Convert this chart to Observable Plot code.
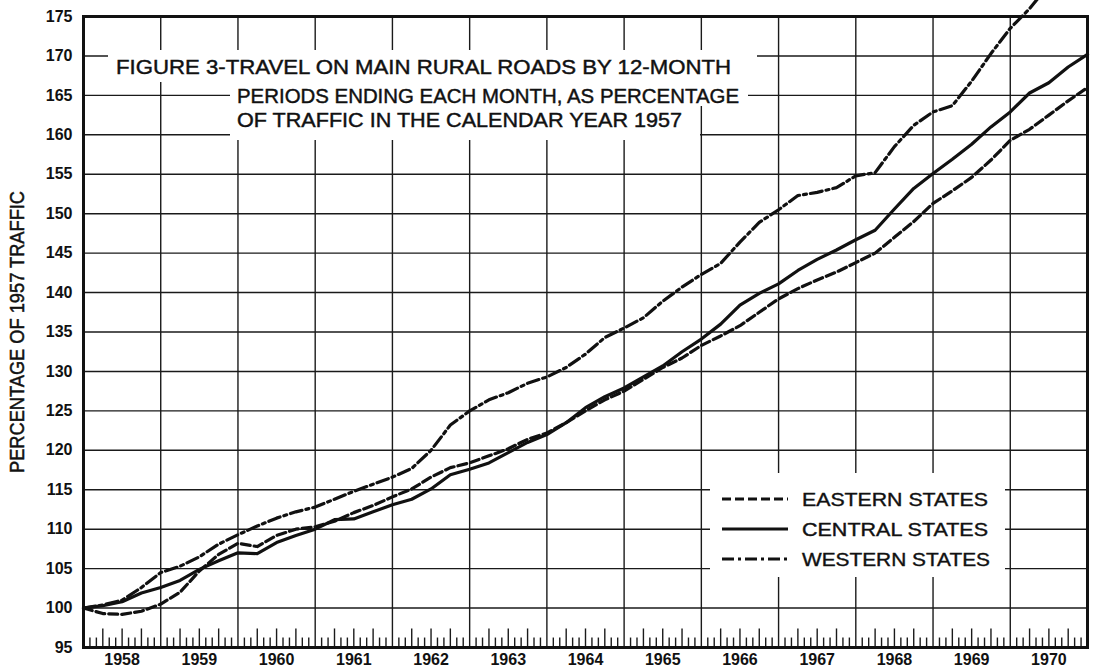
<!DOCTYPE html>
<html><head><meta charset="utf-8">
<script src="https://cdn.jsdelivr.net/npm/d3@7"></script>
<script src="https://cdn.jsdelivr.net/npm/@observablehq/plot@0.6"></script>
<style>
body{margin:0;background:#fff;}
#chart{position:relative;width:1096px;height:671px;overflow:hidden;}
</style></head><body><div id="chart"></div>
<script>
// 12-month periods ending each quarter (decimal year; 1958.00 = period ending Dec 1957)
const periods = d3.range(0, 53).map(i => 1958 + i / 4);
const eastern = [
  100.0, 99.3, 99.2, 99.6,
  100.5, 102.0, 104.7, 106.8,
  108.2, 107.8, 109.2, 110.0,
  110.3, 111.0, 112.1, 113.0,
  114.1, 115.1, 116.6, 117.8,
  118.4, 119.3, 120.2, 121.4,
  122.2, 123.5, 125.0, 126.4,
  127.5, 129.0, 130.5, 131.7,
  133.3, 134.5, 135.8, 137.5,
  139.2, 140.5, 141.6, 142.6,
  143.8, 145.0, 147.0, 149.0,
  151.3, 152.9, 154.6, 156.8,
  159.3, 160.7, 162.5, 164.3,
  166.0];
const central = [
  100.0, 100.3, 100.8, 101.9,
  102.6, 103.5, 104.9, 106.0,
  107.0, 106.9, 108.3, 109.2,
  110.0, 111.2, 111.3, 112.2,
  113.1, 113.8, 115.1, 116.9,
  117.6, 118.4, 119.7, 121.0,
  122.0, 123.5, 125.4, 126.8,
  127.9, 129.3, 130.7, 132.5,
  134.1, 136.0, 138.4, 139.9,
  141.1, 142.8, 144.2, 145.4,
  146.7, 147.9, 150.6, 153.2,
  155.1, 156.9, 158.8, 161.0,
  162.9, 165.3, 166.6, 168.6,
  170.2];
const western = [
  100.0, 100.4, 101.0, 102.6,
  104.5, 105.3, 106.5, 108.1,
  109.3, 110.4, 111.4, 112.2,
  112.8, 113.8, 114.8, 115.7,
  116.6, 117.7, 120.0, 123.2,
  125.0, 126.4, 127.3, 128.5,
  129.3, 130.5, 132.2, 134.3,
  135.5, 136.8, 138.9, 140.7,
  142.3, 143.7, 146.4, 148.9,
  150.5, 152.3, 152.7, 153.3,
  154.8, 155.2, 158.5, 161.2,
  162.9, 163.7, 166.8, 170.3,
  173.5, 176.0, 179.0, null,
  null];
const years = d3.range(1958, 1971);
const yTicks = d3.range(95, 176, 5);
const yLabel = "PERCENTAGE OF 1957 TRAFFIC";
const titleLines = [
  "FIGURE 3-TRAVEL ON MAIN RURAL ROADS BY 12-MONTH",
  "PERIODS ENDING EACH MONTH, AS PERCENTAGE",
  "OF TRAFFIC IN THE CALENDAR YEAR 1957"];
const seriesNames = ["EASTERN STATES", "CENTRAL STATES", "WESTERN STATES"];

const rows = s => periods.map((t, i) => ({t, v: s[i]})).filter(d => d.v != null);
const monthTicks = years.flatMap(y => d3.range(1, 12).map(m => ({t: y + m / 12, q: m % 3 === 0})));
const dashE = "9,4", dashW = "12,4,3,4";
const font = "'Liberation Sans', Arial, sans-serif";

const plot = Plot.plot({
  width: 1096, height: 671,
  marginTop: 16, marginRight: 9, marginBottom: 24, marginLeft: 83,
  style: {fontFamily: font, background: "white", color: "#111"},
  x: {domain: [1958, 1971], axis: null},
  y: {domain: [95, 175], axis: null},
  marks: [
    Plot.ruleY(yTicks.slice(1, -1), {stroke: "#1a1a1a", strokeWidth: 1.4}),
    Plot.ruleX(years.slice(1), {stroke: "#1a1a1a", strokeWidth: 1.4}),
    Plot.ruleX(monthTicks.filter(d => !d.q), {x: "t", y1: 95, y2: 96.2, stroke: "#1a1a1a", strokeWidth: 1.4}),
    Plot.ruleX(monthTicks.filter(d => d.q), {x: "t", y1: 95, y2: 97.35, stroke: "#1a1a1a", strokeWidth: 1.4}),
    Plot.frame({stroke: "#111", strokeWidth: 3}),
    Plot.axisY(yTicks, {tickSize: 0, tickPadding: 11, fontSize: 16, fontWeight: "bold", label: null}),
    Plot.axisX(years.map(y => y + 0.5), {tickSize: 0, tickPadding: 6, fontSize: 16, fontWeight: "bold", label: null, tickFormat: d => String(Math.floor(d))}),
    Plot.text([yLabel], {text: d => d, frameAnchor: "left", rotate: -90, dx: -65.5, fontSize: 20, className: "ylab"}),
    Plot.line(rows(eastern), {x: "t", y: "v", stroke: "#111", strokeWidth: 3.2, strokeDasharray: dashE}),
    Plot.line(rows(central), {x: "t", y: "v", stroke: "#111", strokeWidth: 3.2}),
    Plot.line(rows(western), {x: "t", y: "v", stroke: "#111", strokeWidth: 3.2, strokeDasharray: dashW})
  ]
});
document.getElementById("chart").appendChild(plot);

const svg = d3.select(plot);
svg.selectAll(".ylab text")
  .attr("x", -141).attr("text-anchor", "start")
  .attr("textLength", 282).attr("lengthAdjust", "spacingAndGlyphs")
  .attr("stroke", "#111").attr("stroke-width", 0.5);

// title panel (white knock-out of the grid, as in the printed figure)
const ov = svg.append("g").attr("font-family", font).attr("fill", "#111")
  .attr("text-anchor", "start").attr("stroke", "#111").attr("stroke-width", 0.45);
[[108, 50, 757, 82], [230, 82, 748, 106], [230, 106, 700, 140]].forEach(([a, b, c, d]) =>
  ov.append("rect").attr("x", a).attr("y", b).attr("width", c - a).attr("height", d - b)
    .attr("fill", "white").attr("stroke", "none"));
const titlePos = [[116, 74, 615], [237, 103.3, 502], [237, 127.3, 445]];
titleLines.forEach((s, i) => {
  const [x, y, w] = titlePos[i];
  ov.append("text").attr("x", x).attr("y", y).attr("font-size", 21)
    .attr("textLength", w).attr("lengthAdjust", "spacingAndGlyphs").text(s);
});

// legend panel
const lg = svg.append("g").attr("font-family", font).attr("fill", "#111").attr("text-anchor", "start");
lg.append("rect").attr("x", 710).attr("y", 473).attr("width", 295).attr("height", 104).attr("fill", "white");
const dashes = [dashE, null, dashW];
seriesNames.forEach((s, i) => {
  const yc = 499 + i * 30;
  lg.append("line").attr("x1", 722).attr("x2", 788).attr("y1", yc).attr("y2", yc)
    .attr("stroke", "#111").attr("stroke-width", 3).attr("stroke-dasharray", dashes[i]);
  lg.append("text").attr("x", 802).attr("y", yc + 6.5).attr("font-size", 18.5)
    .attr("stroke", "#111").attr("stroke-width", 0.4)
    .attr("textLength", i === 2 ? 188 : 186).attr("lengthAdjust", "spacingAndGlyphs").text(s);
});
</script></body></html>
